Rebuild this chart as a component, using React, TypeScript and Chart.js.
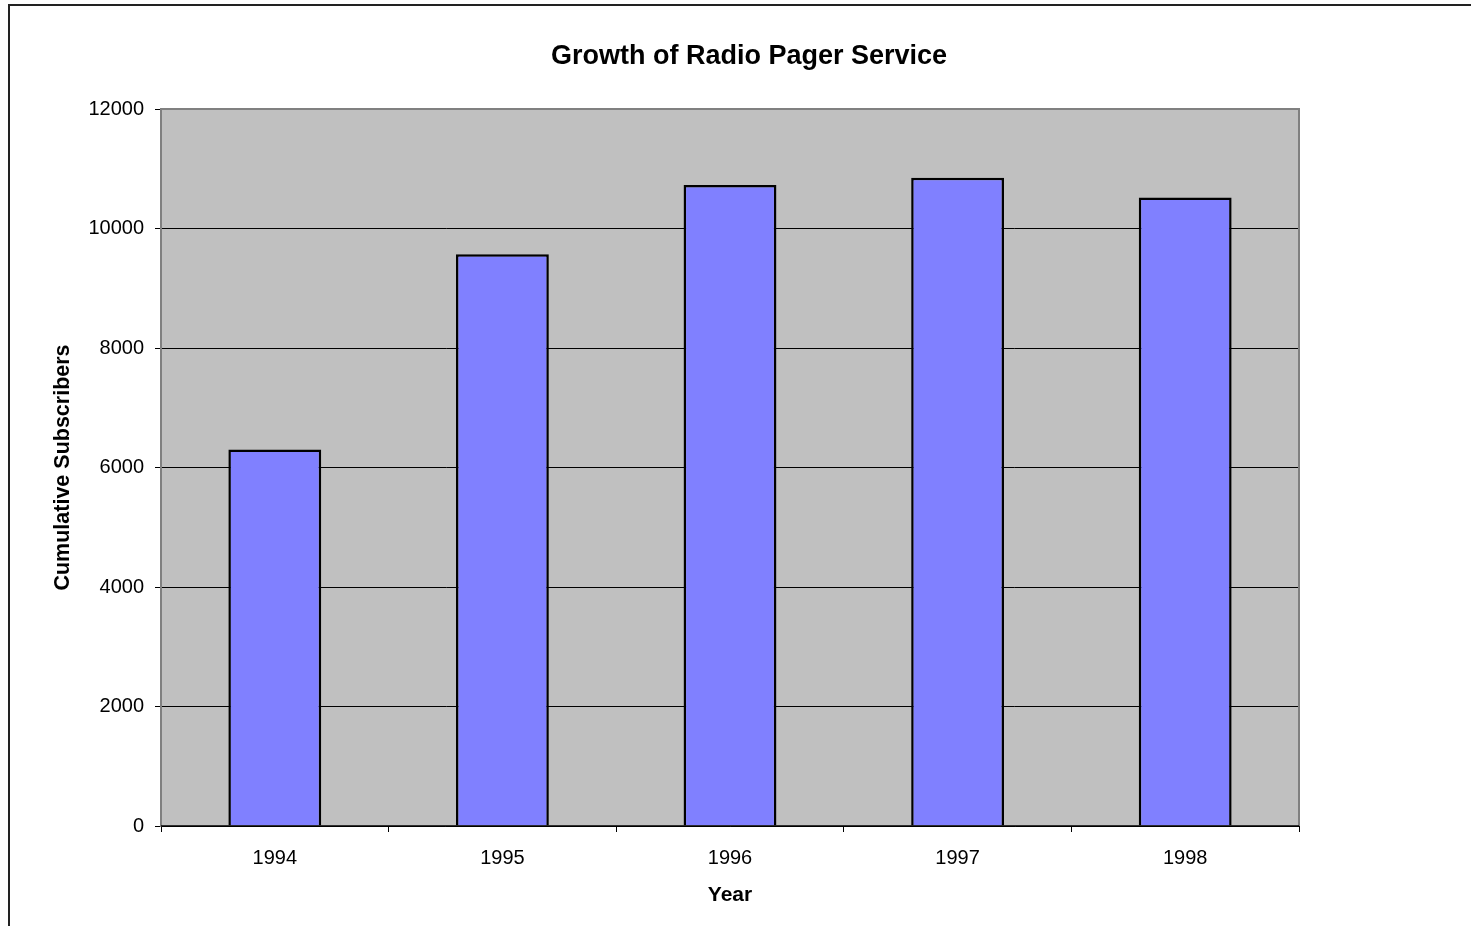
import React, { useEffect, useRef } from "react";
import { Chart, registerables } from "chart.js";

Chart.register(...registerables);

const years: string[] = ["1994", "1995", "1996", "1997", "1998"];
const subscribers: number[] = [6300, 9570, 10730, 10850, 10520];
const chartTitle = "Growth of Radio Pager Service";
const xTitle = "Year";
const yTitle = "Cumulative Subscribers";

const FONT = "'Liberation Sans', Arial, sans-serif";

export default function App() {
  const ref = useRef<HTMLCanvasElement | null>(null);

  useEffect(() => {
    if (!ref.current) return;
    const decor = {
      id: "decor",
      beforeDraw(chart: any) {
        const { ctx, chartArea: a } = chart;
        ctx.save();
        ctx.fillStyle = "#fff";
        ctx.fillRect(0, 0, chart.width, chart.height);
        ctx.fillStyle = "#C0C0C0";
        ctx.fillRect(a.left, a.top, a.right - a.left, a.bottom - a.top);
        // outer frame
        ctx.strokeStyle = "#222";
        ctx.lineWidth = 2;
        ctx.beginPath();
        ctx.moveTo(9, chart.height + 5);
        ctx.lineTo(9, 5);
        ctx.lineTo(chart.width + 5, 5);
        ctx.stroke();
        // title
        ctx.fillStyle = "#000";
        ctx.font = `bold 27px ${FONT}`;
        ctx.textAlign = "center";
        ctx.textBaseline = "middle";
        ctx.fillText(chartTitle, 749, 57);
        ctx.restore();
      },
      afterDatasetsDraw(chart: any) {
        const { ctx, chartArea: a } = chart;
        ctx.save();
        ctx.strokeStyle = "#808080";
        ctx.lineWidth = 2;
        ctx.beginPath();
        ctx.moveTo(a.left, a.bottom);
        ctx.lineTo(a.left, a.top);
        ctx.lineTo(a.right, a.top);
        ctx.lineTo(a.right, a.bottom);
        ctx.stroke();
        ctx.strokeStyle = "#000";
        ctx.lineWidth = 1.5;
        ctx.beginPath();
        ctx.moveTo(a.left, a.bottom);
        ctx.lineTo(a.right, a.bottom);
        ctx.stroke();
        ctx.restore();
      },
    };

    const chart = new Chart(ref.current, {
      type: "bar",
      data: {
        labels: years,
        datasets: [
          {
            data: subscribers,
            backgroundColor: "#8080FF",
            borderColor: "#000",
            borderWidth: 2.5,
            barPercentage: 0.408,
            categoryPercentage: 1,
          },
        ],
      },
      plugins: [decor],
      options: {
        animation: false,
        responsive: false,
        layout: { padding: { left: 0, right: 172, top: 109, bottom: 0 } },
        plugins: {
          legend: { display: false },
          title: { display: false },
          tooltip: { enabled: false },
        },
        scales: {
          x: {
            offset: true,
            grid: {
              offset: true,
              drawOnChartArea: false,
              drawTicks: true,
              tickLength: 6,
              tickColor: "#000",
              color: "#000",
            },
            border: { display: true, color: "#000", width: 1 },
            ticks: {
              color: "#000",
              font: { family: FONT, size: 20 },
              padding: 14,
            },
            title: {
              display: true,
              text: xTitle,
              color: "#000",
              font: { family: FONT, size: 21, weight: "bold" },
              padding: { top: 0, bottom: 18 },
            },
            afterFit(scale: any) {
              scale.height = 100;
            },
          },
          y: {
            min: 0,
            max: 12000,
            ticks: {
              stepSize: 2000,
              color: "#000",
              font: { family: FONT, size: 20 },
              padding: 11,
              callback: (v: any) => String(v),
            },
            grid: {
              color: (c: any) => (c.tick && (c.tick.value === 12000 || c.tick.value === 0) ? "rgba(0,0,0,0)" : "#000"),
              tickColor: "#000",
              tickLength: 6,
              lineWidth: 1,
            },
            border: { display: true, color: "#808080", width: 2 },
            title: {
              display: true,
              text: yTitle,
              color: "#000",
              font: { family: FONT, size: 21.5, weight: "bold" },
              padding: { top: 50, bottom: 0 },
            },
            afterFit(scale: any) {
              scale.width = 161;
            },
          },
        },
      },
    });
    return () => chart.destroy();
  }, []);

  return (
    <div style={{ position: "fixed", left: 0, top: 0, width: 1471, height: 926, background: "#fff" }}>
      <canvas ref={ref} width={1471} height={926} style={{ display: "block", width: 1471, height: 926 }} />
    </div>
  );
}
